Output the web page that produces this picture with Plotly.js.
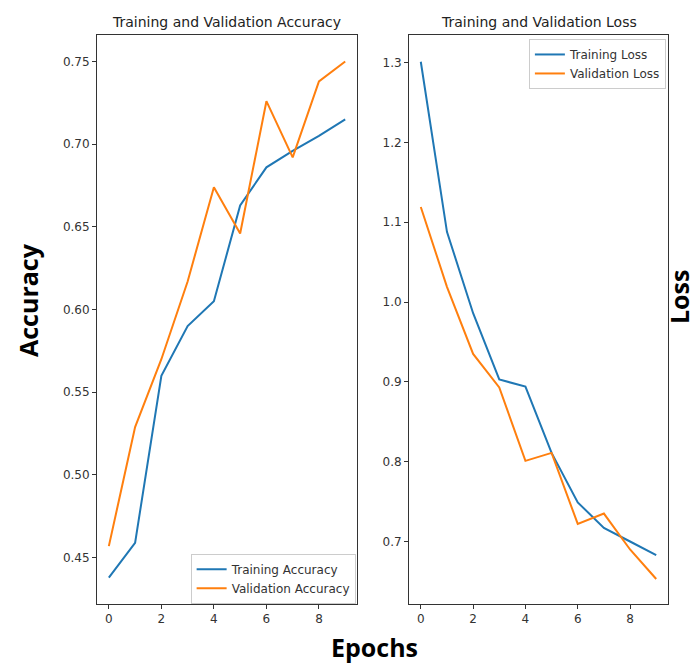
<!DOCTYPE html>
<html>
<head>
<meta charset="utf-8">
<script src="https://cdn.plot.ly/plotly-3.0.1.min.js"></script>
<style>html,body{margin:0;padding:0;background:#fff;}#chart{width:698px;height:666px;}</style>
</head>
<body>
<div id="chart"></div>
<script>
const epochs = [0, 1, 2, 3, 4, 5, 6, 7, 8, 9];
const trainAcc = [0.438, 0.459, 0.560, 0.590, 0.605, 0.663, 0.686, 0.696, 0.705, 0.715];
const valAcc = [0.457, 0.529, 0.570, 0.617, 0.674, 0.646, 0.726, 0.692, 0.738, 0.750];
const trainLoss = [1.301, 1.088, 0.986, 0.903, 0.894, 0.811, 0.749, 0.717, 0.700, 0.683];
const valLoss = [1.119, 1.019, 0.935, 0.893, 0.801, 0.811, 0.722, 0.735, 0.690, 0.653];
const accTicks = [0.45, 0.50, 0.55, 0.60, 0.65, 0.70, 0.75];
const lossTicks = [0.7, 0.8, 0.9, 1.0, 1.1, 1.2, 1.3];
const xTicks = [0, 2, 4, 6, 8];

const blue = '#1f77b4', orange = '#ff7f0e';
const tickFont = {family: 'DejaVu Sans', size: 12, color: '#333'};

const traces = [
  {x: epochs, y: trainAcc, name: 'Training Accuracy', mode: 'lines', line: {color: blue, width: 2}, xaxis: 'x', yaxis: 'y', legend: 'legend'},
  {x: epochs, y: valAcc, name: 'Validation Accuracy', mode: 'lines', line: {color: orange, width: 2}, xaxis: 'x', yaxis: 'y', legend: 'legend'},
  {x: epochs, y: trainLoss, name: 'Training Loss', mode: 'lines', line: {color: blue, width: 2}, xaxis: 'x2', yaxis: 'y2', legend: 'legend2'},
  {x: epochs, y: valLoss, name: 'Validation Loss', mode: 'lines', line: {color: orange, width: 2}, xaxis: 'x2', yaxis: 'y2', legend: 'legend2'}
];

const axBase = {showgrid: false, zeroline: false, showline: true, mirror: true, linecolor: '#333', linewidth: 1,
  ticks: 'outside', ticklen: 4, tickcolor: '#333', tickfont: tickFont};

const legendBase = {bgcolor: 'rgba(255,255,255,0.85)', bordercolor: '#ccc', borderwidth: 1,
  font: {family: 'DejaVu Sans', size: 12, color: '#333'}, xref: 'paper', yref: 'paper', tracegroupgap: 0};

const layout = {
  width: 698, height: 666,
  margin: {l: 0, r: 0, t: 0, b: 0},
  paper_bgcolor: '#fff', plot_bgcolor: '#fff',
  showlegend: true,
  xaxis: Object.assign({}, axBase, {domain: [0.139, 0.5115], range: [-0.45, 9.45], tickvals: xTicks, anchor: 'y'}),
  yaxis: Object.assign({}, axBase, {domain: [0.0931, 0.9474], range: [0.422, 0.766], tickvals: accTicks, tickformat: '.2f', anchor: 'x'}),
  xaxis2: Object.assign({}, axBase, {domain: [0.586, 0.957], range: [-0.45, 9.45], tickvals: xTicks, anchor: 'y2'}),
  yaxis2: Object.assign({}, axBase, {domain: [0.0931, 0.9474], range: [0.6217, 1.3345], tickvals: lossTicks, tickformat: '.1f', anchor: 'x2'}),
  legend: Object.assign({}, legendBase, {x: 0.5095, y: 0.0935, xanchor: 'right', yanchor: 'bottom'}),
  legend2: Object.assign({}, legendBase, {x: 0.954, y: 0.9415, xanchor: 'right', yanchor: 'top'}),
  annotations: [
    {text: 'Training and Validation Accuracy', x: 0.325, y: 0.967, xref: 'paper', yref: 'paper', showarrow: false,
     xanchor: 'center', yanchor: 'middle', font: {family: 'DejaVu Sans', size: 14, color: '#222'}},
    {text: 'Training and Validation Loss', x: 0.7715, y: 0.967, xref: 'paper', yref: 'paper', showarrow: false,
     xanchor: 'center', yanchor: 'middle', font: {family: 'DejaVu Sans', size: 14, color: '#222'}},
    {text: '<b>Accuracy</b>', x: 28 / 698, y: 1 - 300 / 666, xref: 'paper', yref: 'paper', showarrow: false, textangle: -90,
     xanchor: 'center', yanchor: 'middle', font: {family: 'Open Sans', size: 25, color: '#000'}},
    {text: '<b>Loss</b>', x: 1, y: 1 - 297 / 666, xref: 'paper', yref: 'paper', showarrow: false, textangle: -90,
     xanchor: 'right', yanchor: 'middle', font: {family: 'Open Sans', size: 25, color: '#000'}},
    {text: '<b>Epochs</b>', x: 374 / 698, y: 0, xref: 'paper', yref: 'paper', showarrow: false,
     xanchor: 'center', yanchor: 'bottom', font: {family: 'Open Sans', size: 25, color: '#000'}}
  ]
};

Plotly.newPlot('chart', traces, layout, {displayModeBar: false, staticPlot: true});
</script>
</body>
</html>
